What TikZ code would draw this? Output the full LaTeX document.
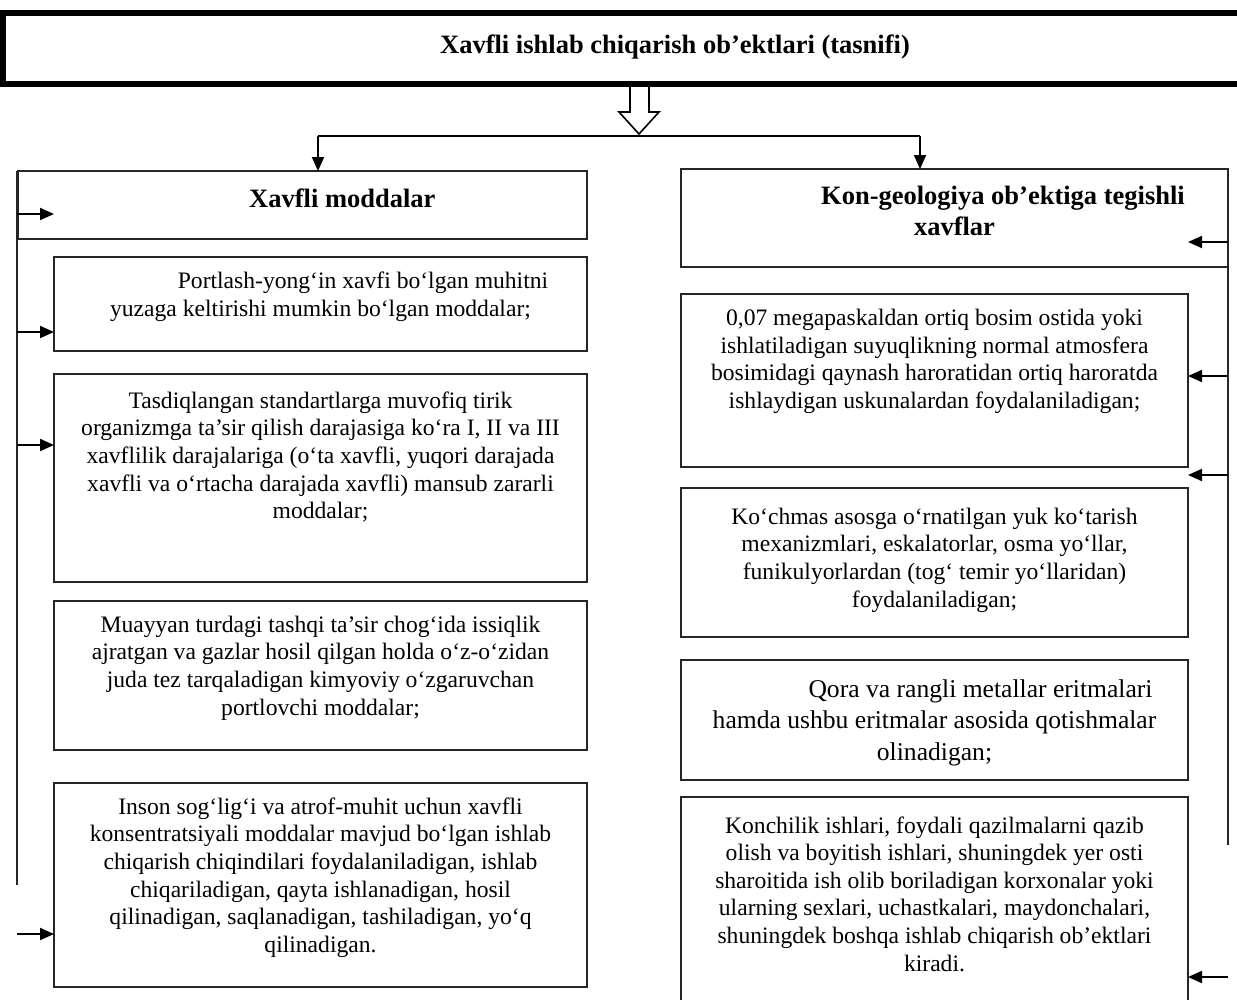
\documentclass[tikz,border=0pt]{standalone}
\usepackage{fontspec}
\setmainfont{Liberation Serif}
\usetikzlibrary{arrows.meta}
\begin{document}
\begin{tikzpicture}[x=1pt,y=-1pt,
  box/.style={draw=black!85, line width=1.3pt, anchor=north west, inner sep=0pt, outer sep=0pt},
  topbox/.style={draw=black, line width=6.5pt, anchor=north west, inner sep=0pt, outer sep=0pt},
  txt/.style={inner sep=0pt, align=center, font=\fontsize{23.6}{27.6}\selectfont},
  bigtxt/.style={inner sep=0pt, align=center, font=\fontsize{25.6}{31.5}\selectfont},
  hdr/.style={inner sep=0pt, align=center, font=\fontsize{26.5}{31.5}\selectfont\bfseries},
  arr/.style={line width=2pt, -{Triangle[length=14pt,width=12pt]}},
  bus/.style={line width=1.3pt, draw=black!85},
  hollow/.style={line width=1.6pt, fill=white, line join=miter}
]
\useasboundingbox (0,0) rectangle (1237,999);

% title box
\node[topbox, minimum width=1250pt, minimum height=71pt] (top) at (3,13) {};
\node[hdr] (title) at (675,47) {Xavfli ishlab chiqarish ob’ektlari (tasnifi)};

% hollow arrow
\draw[hollow] (630,87) -- (630,112) -- (619,112) -- (639,134) -- (659,112) -- (649,112) -- (649,87);

% headers
\node[box, minimum width=569pt, minimum height=68pt] (lh) at (18,171) {};
\node[hdr, anchor=west] (lht) at (249,198) {Xavfli moddalar};
\node[box, minimum width=547pt, minimum height=98pt] (rh) at (681,169) {};
\node[hdr] (rht) at (954.5,211) {\hspace*{97pt}Kon-geologiya ob’ektiga tegishli\\xavflar};

% branch
\coordinate (bl) at (318,136);
\coordinate (br) at (920,136);
\draw[line width=1.5pt] (bl) -- (br);
\draw[arr] (bl) -- (bl |- lh.north);
\draw[arr] (br) -- (br |- rh.north);

% left boxes
\node[box, minimum width=533pt, minimum height=94pt] (l2) at (54,257) {};
\node[txt] (l2t) at (320.5,296.5) {\hspace*{85pt}Portlash-yong‘in xavfi bo‘lgan muhitni\\yuzaga keltirishi mumkin bo‘lgan moddalar;};
\node[box, minimum width=533pt, minimum height=208pt] (l3) at (54,374) {};
\node[txt] (l3t) at (320.5,457) {Tasdiqlangan standartlarga muvofiq tirik\\organizmga ta’sir qilish darajasiga ko‘ra I, II va III\\xavflilik darajalariga (o‘ta xavfli, yuqori darajada\\xavfli va o‘rtacha darajada xavfli) mansub zararli\\moddalar;};
\node[box, minimum width=533pt, minimum height=149pt] (l4) at (54,601) {};
\node[txt] (l4t) at (320.5,668) {Muayyan turdagi tashqi ta’sir chog‘ida issiqlik\\ajratgan va gazlar hosil qilgan holda o‘z-o‘zidan\\juda tez tarqaladigan kimyoviy o‘zgaruvchan\\portlovchi moddalar;};
\node[box, minimum width=533pt, minimum height=204pt] (l5) at (54,783) {};
\node[txt] (l5t) at (320.5,877.5) {Inson sog‘lig‘i va atrof-muhit uchun xavfli\\konsentratsiyali moddalar mavjud bo‘lgan ishlab\\chiqarish chiqindilari foydalaniladigan, ishlab\\chiqariladigan, qayta ishlanadigan, hosil\\qilinadigan, saqlanadigan, tashiladigan, yo‘q\\qilinadigan.};

% right boxes
\node[box, minimum width=507pt, minimum height=173pt] (r2) at (681,294) {};
\node[txt] (r2t) at (934.5,361.5) {0,07 megapaskaldan ortiq bosim ostida yoki\\ishlatiladigan suyuqlikning normal atmosfera\\bosimidagi qaynash haroratidan ortiq haroratda\\ishlaydigan uskunalardan foydalaniladigan;};
\node[box, minimum width=507pt, minimum height=149pt] (r3) at (681,488) {};
\node[txt] (r3t) at (934.5,560) {Ko‘chmas asosga o‘rnatilgan yuk ko‘tarish\\mexanizmlari, eskalatorlar, osma yo‘llar,\\funikulyorlardan (tog‘ temir yo‘llaridan)\\foydalaniladigan;};
\node[box, minimum width=507pt, minimum height=120pt] (r4) at (681,660) {};
\node[bigtxt] (r4t) at (934.5,722.5) {\hspace*{92pt}Qora va rangli metallar eritmalari\\hamda ushbu eritmalar asosida qotishmalar\\olinadigan;};
\node[box, minimum width=507pt, minimum height=215pt] (r5) at (681,797) {};
\node[txt] (r5t) at (934.5,894) {Konchilik ishlari, foydali qazilmalarni qazib\\olish va boyitish ishlari, shuningdek yer osti\\sharoitida ish olib boriladigan korxonalar yoki\\ularning sexlari, uchastkalari, maydonchalari,\\shuningdek boshqa ishlab chiqarish ob’ektlari\\kiradi.};

% left bus
\coordinate (lbt) at (17,171);
\coordinate (lbb) at (17,885);
\draw[bus] (lbt) -- (lbb);
\coordinate (la1) at (17,214);
\coordinate (la2) at (17,332);
\coordinate (la3) at (17,445);
\coordinate (la4) at (17,934);
\draw[arr] (la1) -- (la1 -| l2.west);
\draw[arr] (la2) -- (la2 -| l2.west);
\draw[arr] (la3) -- (la3 -| l3.west);
\draw[arr] (la4) -- (la4 -| l5.west);

% right bus
\coordinate (rbt) at (1228,169);
\coordinate (rbb) at (1228,845);
\draw[bus] (rbt) -- (rbb);
\coordinate (ra1) at (1228,242);
\coordinate (ra2) at (1228,376);
\coordinate (ra3) at (1228,475);
\coordinate (ra4) at (1228,977);
\draw[arr] (ra1) -- (ra1 -| r2.east);
\draw[arr] (ra2) -- (ra2 -| r2.east);
\draw[arr] (ra3) -- (ra3 -| r2.east);
\draw[arr] (ra4) -- (ra4 -| r5.east);
\end{tikzpicture}
\end{document}
